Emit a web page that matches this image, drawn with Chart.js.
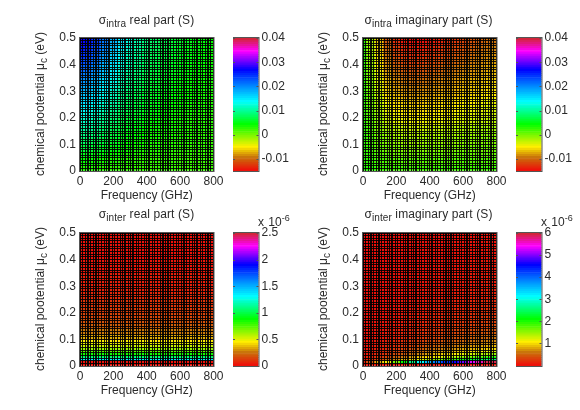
<!DOCTYPE html>
<html>
<head>
<meta charset="utf-8">
<script src="https://cdn.jsdelivr.net/npm/chart.js@4"></script>
<style>
    html, body { margin: 0; background: #fff; }
    #page { position: absolute; left: 0; top: 0; width: 580px; height: 410px; overflow: hidden; filter: blur(0.5px);
        font: 12px "Liberation Sans", Arial, sans-serif; color: #2b2b2b; }
    canvas { position: absolute; }
    .label { position: absolute; white-space: nowrap; }
    .label sub { font-size: 10px; line-height: 0; }
    .label sup { font-size: 9px; line-height: 0; }
    .title { transform: translate(-50%, -50%); letter-spacing: 0.1px; }
    .ylabel { transform: translate(-50%, -50%) rotate(-90deg); }
    .exp { word-spacing: 1px; }
</style>
</head>
<body>
<div id="page"></div>
<script>
// columns and row edges of the surfaces
const freqs = [0, 50, 100, 150, 200, 250, 300, 350, 400, 450, 500, 550, 600, 650, 700, 750, 800];
const muEdgesIntra = [0.5, 0.475, 0.45, 0.425, 0.4, 0.375, 0.35, 0.325, 0.3, 0.275, 0.25, 0.225, 0.2, 0.175, 0.15, 0.125, 0.1, 0.075, 0.05, 0.025, 0];
const muEdgesInter = [0.5, 0.45, 0.4, 0.35, 0.3, 0.275, 0.25, 0.225, 0.2, 0.18, 0.16, 0.14, 0.12, 0.1, 0.09, 0.08, 0.07, 0.06, 0.05, 0.04, 0.035, 0.03, 0.025, 0.02, 0.01, 0];

// tick labels
const freqTicks = [0, 200, 400, 600, 800];
const muTicks = [0, 0.1, 0.2, 0.3, 0.4, 0.5];
const barTicksIntra = [-10, 0, 10, 20, 30, 40];
const barLabelsIntra = ['-0.01', '0', '0.01', '0.02', '0.03', '0.04'];
const barTicksInterReal = [0, 0.5, 1, 1.5, 2, 2.5];
const barLabelsInterReal = ['0', '0.5', '1', '1.5', '2', '2.5'];
const barTicksInterImag = [1, 2, 3, 4, 5, 6];
const barLabelsInterImag = ['1', '2', '3', '4', '5', '6'];

// sigma intra, real part, mS, top row first
const intraReal = [
    [27.5, 26.5, 23.9, 20.7, 17.6, 14.8, 12.5, 10.7, 9.1, 8, 7.1, 6.3, 5.8, 5.3, 4.9, 4.6, 4.3],
    [26.2, 25.2, 22.8, 19.8, 16.8, 14.1, 11.9, 10.2, 8.8, 7.7, 6.8, 6.1, 5.6, 5.1, 4.7, 4.4, 4.2],
    [25, 24.1, 21.8, 18.9, 16, 13.5, 11.4, 9.8, 8.4, 7.4, 6.6, 5.9, 5.4, 5, 4.6, 4.3, 4],
    [23.7, 22.8, 20.7, 18, 15.2, 12.9, 10.9, 9.4, 8.1, 7.1, 6.3, 5.7, 5.2, 4.8, 4.5, 4.2, 3.9],
    [22.4, 21.6, 19.5, 17, 14.4, 12.2, 10.4, 8.9, 7.7, 6.8, 6.1, 5.5, 5, 4.6, 4.3, 4, 3.8],
    [21.1, 20.3, 18.4, 16, 13.7, 11.6, 9.8, 8.5, 7.3, 6.5, 5.8, 5.2, 4.8, 4.5, 4.2, 3.9, 3.7],
    [19.8, 19.1, 17.3, 15.1, 12.9, 10.9, 9.3, 8.1, 7, 6.2, 5.6, 5, 4.6, 4.3, 4, 3.8, 3.6],
    [18.5, 17.8, 16.2, 14.1, 12.1, 10.3, 8.8, 7.6, 6.6, 5.9, 5.3, 4.8, 4.4, 4.1, 3.9, 3.7, 3.5],
    [17.2, 16.6, 15.1, 13.2, 11.3, 9.6, 8.2, 7.2, 6.3, 5.6, 5, 4.6, 4.2, 4, 3.7, 3.5, 3.4],
    [15.9, 15.3, 14, 12.2, 10.5, 9, 7.7, 6.7, 5.9, 5.3, 4.8, 4.4, 4.1, 3.8, 3.6, 3.4, 3.2],
    [14.6, 14.1, 12.8, 11.3, 9.7, 8.3, 7.2, 6.3, 5.5, 5, 4.5, 4.1, 3.9, 3.6, 3.4, 3.3, 3.1],
    [13.3, 12.8, 11.7, 10.3, 8.9, 7.7, 6.6, 5.8, 5.2, 4.7, 4.3, 3.9, 3.7, 3.5, 3.3, 3.1, 3],
    [12, 11.6, 10.6, 9.4, 8.1, 7, 6.1, 5.4, 4.8, 4.4, 4, 3.7, 3.5, 3.3, 3.1, 3, 2.9],
    [10.7, 10.4, 9.5, 8.4, 7.3, 6.4, 5.6, 5, 4.4, 4, 3.7, 3.5, 3.3, 3.1, 3, 2.9, 2.8],
    [9.4, 9.1, 8.4, 7.4, 6.5, 5.7, 5, 4.5, 4.1, 3.7, 3.5, 3.3, 3.1, 3, 2.8, 2.7, 2.7],
    [8.1, 7.9, 7.2, 6.5, 5.7, 5.1, 4.5, 4.1, 3.7, 3.4, 3.2, 3, 2.9, 2.8, 2.7, 2.6, 2.5],
    [6.8, 6.6, 6.1, 5.5, 4.9, 4.4, 4, 3.6, 3.3, 3.1, 3, 2.8, 2.7, 2.6, 2.5, 2.5, 2.4],
    [5.5, 5.4, 5, 4.6, 4.1, 3.8, 3.4, 3.2, 3, 2.8, 2.7, 2.6, 2.5, 2.5, 2.4, 2.4, 2.3],
    [4.2, 4.1, 3.9, 3.6, 3.3, 3.1, 2.9, 2.7, 2.6, 2.5, 2.4, 2.4, 2.3, 2.3, 2.2, 2.2, 2.2],
    [3, 3, 2.9, 2.7, 2.6, 2.5, 2.4, 2.3, 2.3, 2.2, 2.2, 2.2, 2.1, 2.1, 2.1, 2.1, 2.1]
];

// sigma intra, imaginary part, mS, top row first
const intraImag = [
    [3, -1.8, -6.6, -10.8, -12.9, -14, -14.5, -14.5, -14.2, -13.7, -13.1, -12.4, -11.8, -11.1, -10.5, -9.9, -9.5],
    [3, -1.6, -6.2, -10.2, -12.2, -13.2, -13.7, -13.7, -13.4, -12.9, -12.3, -11.7, -11.1, -10.5, -9.9, -9.3, -9],
    [3, -1.3, -5.7, -9.6, -11.5, -12.5, -12.9, -12.9, -12.6, -12.2, -11.6, -11, -10.5, -9.9, -9.3, -8.7, -8.4],
    [3, -1.1, -5.3, -9, -10.7, -11.7, -12.1, -12.1, -11.8, -11.4, -10.9, -10.3, -9.8, -9.2, -8.7, -8.2, -7.9],
    [3, -0.8, -4.8, -8.4, -10, -10.9, -11.3, -11.3, -11, -10.7, -10.1, -9.6, -9.1, -8.6, -8.1, -7.6, -7.3],
    [3, -0.6, -4.3, -7.7, -9.3, -10.1, -10.5, -10.5, -10.3, -9.9, -9.4, -8.9, -8.5, -8, -7.5, -7, -6.8],
    [3, -0.4, -3.9, -7.1, -8.6, -9.4, -9.7, -9.7, -9.5, -9.1, -8.7, -8.2, -7.8, -7.3, -6.9, -6.5, -6.2],
    [3, -0.1, -3.4, -6.5, -7.9, -8.6, -8.9, -8.9, -8.7, -8.4, -8, -7.5, -7.1, -6.7, -6.3, -5.9, -5.7],
    [3, 0.1, -3, -5.9, -7.1, -7.8, -8.1, -8.1, -7.9, -7.6, -7.2, -6.9, -6.5, -6.1, -5.7, -5.3, -5.1],
    [3, 0.4, -2.5, -4.8, -5.9, -6.5, -6.8, -6.8, -6.6, -6.4, -6, -5.7, -5.3, -5, -4.6, -4.2, -4.1],
    [3, 0.6, -2.1, -4.2, -5.2, -5.8, -6, -6, -5.8, -5.6, -5.3, -5, -4.6, -4.3, -4, -3.7, -3.5],
    [3, 0.8, -1.6, -3.5, -4.5, -5, -5.2, -5.2, -5.1, -4.8, -4.6, -4.3, -4, -3.7, -3.4, -3.1, -3],
    [3, 1.1, -1.1, -2.9, -3.8, -4.2, -4.4, -4.4, -4.3, -4.1, -3.8, -3.6, -3.3, -3.1, -2.8, -2.6, -2.4],
    [3, 1.3, -0.7, -1.8, -2.5, -2.9, -3.1, -3.1, -3, -2.8, -2.6, -2.4, -2.1, -1.9, -1.7, -1.5, -1.4],
    [3, 1.6, -0.2, -1.2, -1.8, -2.2, -2.3, -2.3, -2.2, -2.1, -1.9, -1.7, -1.5, -1.3, -1.1, -0.9, -0.8],
    [3, 1.8, 0.2, -0.6, -1.1, -1.4, -1.5, -1.5, -1.4, -1.3, -1.1, -1, -0.8, -0.7, -0.5, -0.3, -0.3],
    [3, 2, 0.7, 0, -0.4, -0.6, -0.7, -0.7, -0.6, -0.5, -0.4, -0.3, -0.2, 0, 0.1, 0.2, 0.3],
    [3, 2.3, 1.1, 0.7, 0.3, 0.2, 0.1, 0.1, 0.1, 0.2, 0.3, 0.4, 0.5, 0.6, 0.7, 0.8, 0.8],
    [3, 2.5, 1.6, 1.3, 1.1, 0.9, 0.9, 0.9, 0.9, 1, 1, 1.1, 1.2, 1.2, 1.3, 1.4, 1.4],
    [3, 2.8, 2, 1.9, 1.8, 1.7, 1.7, 1.7, 1.7, 1.7, 1.8, 1.8, 1.8, 1.9, 1.9, 1.9, 2]
];

// sigma inter, real part, 1e-6 S, top row first
const interReal = [
    [0.02, 0.02, 0.02, 0.02, 0.02, 0.02, 0.02, 0.02, 0.02, 0.02, 0.02, 0.02, 0.02, 0.02, 0.02, 0.02, 0.02],
    [0.02, 0.02, 0.02, 0.02, 0.02, 0.02, 0.02, 0.02, 0.02, 0.02, 0.02, 0.02, 0.02, 0.02, 0.02, 0.02, 0.02],
    [0.03, 0.03, 0.03, 0.03, 0.03, 0.03, 0.03, 0.03, 0.03, 0.03, 0.03, 0.03, 0.03, 0.03, 0.03, 0.03, 0.03],
    [0.05, 0.05, 0.05, 0.05, 0.05, 0.05, 0.05, 0.05, 0.05, 0.05, 0.05, 0.05, 0.05, 0.05, 0.05, 0.05, 0.05],
    [0.06, 0.06, 0.06, 0.06, 0.06, 0.06, 0.06, 0.06, 0.06, 0.06, 0.06, 0.06, 0.06, 0.06, 0.06, 0.06, 0.06],
    [0.08, 0.08, 0.08, 0.08, 0.08, 0.08, 0.08, 0.08, 0.08, 0.08, 0.08, 0.08, 0.08, 0.08, 0.08, 0.08, 0.08],
    [0.1, 0.1, 0.1, 0.1, 0.1, 0.1, 0.1, 0.1, 0.1, 0.1, 0.1, 0.1, 0.1, 0.1, 0.1, 0.1, 0.1],
    [0.12, 0.12, 0.12, 0.12, 0.12, 0.12, 0.12, 0.12, 0.12, 0.12, 0.12, 0.12, 0.12, 0.12, 0.12, 0.12, 0.12],
    [0.14, 0.14, 0.14, 0.14, 0.14, 0.14, 0.14, 0.14, 0.14, 0.14, 0.14, 0.14, 0.14, 0.14, 0.14, 0.14, 0.14],
    [0.17, 0.17, 0.17, 0.17, 0.17, 0.17, 0.17, 0.17, 0.17, 0.17, 0.17, 0.17, 0.17, 0.17, 0.17, 0.17, 0.17],
    [0.2, 0.2, 0.2, 0.2, 0.2, 0.2, 0.2, 0.2, 0.2, 0.2, 0.2, 0.2, 0.2, 0.2, 0.2, 0.2, 0.2],
    [0.26, 0.26, 0.26, 0.26, 0.26, 0.26, 0.26, 0.26, 0.26, 0.26, 0.26, 0.26, 0.26, 0.26, 0.26, 0.26, 0.26],
    [0.34, 0.34, 0.34, 0.34, 0.34, 0.34, 0.34, 0.34, 0.34, 0.34, 0.34, 0.34, 0.34, 0.34, 0.34, 0.34, 0.34],
    [0.44, 0.44, 0.44, 0.44, 0.44, 0.44, 0.44, 0.44, 0.44, 0.44, 0.44, 0.44, 0.44, 0.44, 0.44, 0.44, 0.44],
    [0.48, 0.48, 0.48, 0.48, 0.48, 0.48, 0.48, 0.48, 0.48, 0.48, 0.48, 0.48, 0.48, 0.48, 0.48, 0.48, 0.48],
    [0.54, 0.54, 0.54, 0.54, 0.54, 0.54, 0.54, 0.54, 0.54, 0.54, 0.54, 0.54, 0.54, 0.54, 0.54, 0.54, 0.54],
    [0.62, 0.62, 0.62, 0.62, 0.62, 0.62, 0.62, 0.62, 0.62, 0.62, 0.62, 0.62, 0.62, 0.62, 0.62, 0.62, 0.62],
    [0.72, 0.72, 0.72, 0.72, 0.72, 0.72, 0.72, 0.72, 0.72, 0.72, 0.72, 0.72, 0.72, 0.72, 0.72, 0.72, 0.72],
    [0.85, 0.85, 0.85, 0.85, 0.85, 0.85, 0.85, 0.85, 0.85, 0.85, 0.85, 0.85, 0.85, 0.85, 0.85, 0.85, 0.85],
    [1, 1, 1, 1, 1, 1, 1, 1, 1, 1, 1, 1, 1, 1, 1, 1, 1],
    [1.1, 1.1, 1.1, 1.1, 1.1, 1.1, 1.1, 1.1, 1.1, 1.1, 1.1, 1.1, 1.1, 1.1, 1.1, 1.1, 1.1],
    [1.3, 1.3, 1.3, 1.3, 1.3, 1.3, 1.3, 1.3, 1.3, 1.3, 1.3, 1.3, 1.3, 1.3, 1.3, 1.3, 1.3],
    [1.5, 1.5, 1.5, 1.5, 1.5, 1.5, 1.5, 1.5, 1.5, 1.5, 1.5, 1.5, 1.5, 1.5, 1.5, 1.5, 1.5],
    [0.02, 0.02, 0.02, 0.02, 0.02, 0.02, 0.02, 0.02, 0.02, 0.02, 0.02, 0.02, 0.02, 0.02, 0.02, 0.02, 0.02],
    [0.02, 0.02, 0.02, 0.02, 0.02, 0.02, 0.02, 0.02, 0.02, 0.02, 0.02, 0.02, 0.02, 0.02, 0.02, 0.02, 0.02]
];

// sigma inter, imaginary part, 1e-6 S, top row first
const interImag = [
    [0, 0, 0.01, 0.01, 0.01, 0.01, 0.02, 0.02, 0.02, 0.02, 0.02, 0.03, 0.03, 0.03, 0.03, 0.04, 0.04],
    [0, 0, 0.01, 0.01, 0.01, 0.02, 0.02, 0.02, 0.03, 0.03, 0.03, 0.03, 0.04, 0.04, 0.04, 0.05, 0.05],
    [0, 0.01, 0.01, 0.01, 0.02, 0.02, 0.03, 0.03, 0.03, 0.04, 0.04, 0.05, 0.05, 0.06, 0.06, 0.06, 0.07],
    [0, 0.01, 0.01, 0.02, 0.02, 0.03, 0.03, 0.04, 0.05, 0.05, 0.06, 0.06, 0.07, 0.08, 0.08, 0.09, 0.09],
    [0, 0.01, 0.02, 0.02, 0.03, 0.04, 0.04, 0.05, 0.06, 0.07, 0.07, 0.08, 0.09, 0.1, 0.1, 0.11, 0.12],
    [0.01, 0.01, 0.02, 0.03, 0.04, 0.04, 0.05, 0.06, 0.07, 0.08, 0.09, 0.1, 0.11, 0.12, 0.12, 0.13, 0.14],
    [0.01, 0.01, 0.02, 0.03, 0.04, 0.05, 0.06, 0.07, 0.08, 0.1, 0.11, 0.12, 0.13, 0.14, 0.15, 0.16, 0.17],
    [0.01, 0.01, 0.03, 0.04, 0.05, 0.06, 0.08, 0.09, 0.1, 0.12, 0.13, 0.14, 0.16, 0.17, 0.18, 0.19, 0.2],
    [0.01, 0.02, 0.03, 0.04, 0.06, 0.08, 0.09, 0.11, 0.12, 0.14, 0.16, 0.17, 0.19, 0.2, 0.22, 0.23, 0.24],
    [0.01, 0.02, 0.04, 0.05, 0.07, 0.09, 0.11, 0.13, 0.15, 0.17, 0.19, 0.2, 0.22, 0.24, 0.26, 0.27, 0.29],
    [0.01, 0.02, 0.04, 0.06, 0.08, 0.11, 0.13, 0.15, 0.18, 0.2, 0.22, 0.25, 0.27, 0.29, 0.31, 0.33, 0.35],
    [0.01, 0.03, 0.05, 0.08, 0.1, 0.13, 0.16, 0.19, 0.22, 0.25, 0.28, 0.31, 0.34, 0.36, 0.39, 0.41, 0.44],
    [0.02, 0.03, 0.07, 0.1, 0.13, 0.16, 0.2, 0.24, 0.28, 0.32, 0.35, 0.39, 0.43, 0.46, 0.5, 0.53, 0.56],
    [0.02, 0.04, 0.08, 0.11, 0.15, 0.19, 0.24, 0.28, 0.33, 0.37, 0.41, 0.46, 0.5, 0.54, 0.58, 0.62, 0.66],
    [0.02, 0.04, 0.09, 0.13, 0.17, 0.22, 0.27, 0.32, 0.37, 0.42, 0.47, 0.52, 0.57, 0.62, 0.66, 0.7, 0.75],
    [0.02, 0.05, 0.1, 0.15, 0.2, 0.25, 0.31, 0.37, 0.43, 0.49, 0.54, 0.6, 0.66, 0.71, 0.76, 0.81, 0.86],
    [0.02, 0.06, 0.11, 0.17, 0.23, 0.3, 0.37, 0.44, 0.5, 0.57, 0.63, 0.7, 0.77, 0.83, 0.89, 0.95, 1],
    [0.03, 0.07, 0.14, 0.2, 0.28, 0.36, 0.44, 0.52, 0.6, 0.68, 0.76, 0.84, 0.92, 1, 1.07, 1.13, 1.2],
    [0.03, 0.08, 0.17, 0.25, 0.35, 0.45, 0.55, 0.65, 0.75, 0.85, 0.95, 1.05, 1.15, 1.25, 1.35, 1.4, 1.5],
    [0.04, 0.1, 0.2, 0.3, 0.45, 0.55, 0.7, 0.8, 0.9, 1, 1.15, 1.25, 1.4, 1.5, 1.6, 1.7, 1.8],
    [0.05, 0.12, 0.25, 0.35, 0.5, 0.65, 0.8, 0.95, 1.05, 1.2, 1.35, 1.5, 1.65, 1.75, 1.9, 2, 2.1],
    [0.05, 0.15, 0.3, 0.45, 0.6, 0.8, 0.95, 1.1, 1.3, 1.45, 1.65, 1.8, 2, 2.15, 2.3, 2.4, 2.5],
    [0.05, 0.2, 0.4, 0.6, 0.8, 1, 1.2, 1.5, 1.7, 1.9, 2.2, 2.4, 2.6, 2.8, 3, 3.2, 3.3],
    [0.1, 0.4, 0.8, 1.1, 1.6, 2.1, 2.6, 3.1, 3.5, 3.9, 4.3, 4.6, 4.9, 5.3, 5.6, 5.9, 5.9],
    [0.05, 0.05, 0.05, 0.05, 0.05, 0.05, 0.05, 0.05, 0.05, 0.05, 0.05, 0.05, 0.05, 0.05, 0.05, 0.05, 0.05]
];

// colormap, bottom to top
const colorStops = [
    [0, 240, 10, 10], [0.1, 200, 115, 10], [0.18, 255, 240, 0], [0.35, 0, 255, 0], [0.52, 0, 255, 255],
    [0.68, 0, 90, 255], [0.76, 0, 0, 255], [0.9, 255, 0, 255], [1, 205, 40, 40]
];

// mesh lines that came out heavier in the export, counted from 0 GHz
const heavyFreqLines = [3, 6, 11, 17, 20, 26, 31, 33, 39, 44, 48];

function colorAt(t) {
    t = Math.max(0, Math.min(1, t));
    let i = 0;
    while (i < colorStops.length - 2 && t > colorStops[i + 1][0]) i++;
    const a = colorStops[i], b = colorStops[i + 1];
    const k = (t - a[0]) / (b[0] - a[0]);
    return `rgb(${[1, 2, 3].map(c => Math.round(a[c] + (b[c] - a[c]) * k)).join(',')})`;
}

const inkColor = '#2b2b2b';
const meshColor = 'rgba(0,0,0,0.9)';
const tickFont = { family: '"Liberation Sans", Arial, sans-serif', size: 12 };
const page = document.getElementById('page');

// mesh lines of the surface plot; 200 and 600 are off the mesh and only carry a label
const meshFreq = [...new Set([...Array.from({ length: 51 }, (_, i) => i * 16), ...freqTicks])].sort((a, b) => a - b);
const meshMu = Array.from({ length: 51 }, (_, i) => i * 0.01);

// the scales must not shift the plot for half a label
function noScalePadding(s) {
    s.paddingTop = 0;
    s.paddingBottom = 0;
    s.paddingLeft = 0;
    s.paddingRight = 0;
}

// frame and inward ticks, matlab style
const framePlugin = {
    id: 'frame',
    afterDraw(chart, args, opts) {
        const { ctx, chartArea: a } = chart;
        ctx.save();
        ctx.strokeStyle = '#555';
        ctx.strokeRect(a.left - 0.5, a.top - 0.5, a.right - a.left + 1, a.bottom - a.top + 1);
        if (opts.ticks) {
            opts.ticks.forEach(v => {
                const y = Math.round(chart.scales.y.getPixelForValue(v)) + 0.5;
                ctx.beginPath();
                ctx.moveTo(a.left, y); ctx.lineTo(a.left + 2, y);
                ctx.moveTo(a.right - 2, y); ctx.lineTo(a.right, y);
                ctx.stroke();
            });
        }
        ctx.restore();
    }
};

function addCanvas(left, top, width, height) {
    const c = document.createElement('canvas');
    c.style.left = left + 'px';
    c.style.top = top + 'px';
    c.style.width = width + 'px';
    c.style.height = height + 'px';
    c.width = width;
    c.height = height;
    page.appendChild(c);
    return c;
}

function addLabel(cls, html, x, y) {
    const d = document.createElement('div');
    d.className = 'label ' + cls;
    d.innerHTML = html;
    d.style.left = x + 'px';
    d.style.top = y + 'px';
    page.appendChild(d);
}

function drawSurface(left, top, table, muEdges, min, max) {
    const datasets = table.map((row, r) => ({
        data: row.map((v, c) => ({ x: freqs[c], y: [muEdges[r + 1], muEdges[r]] })),
        backgroundColor: row.map(v => colorAt((v - min) / (max - min))),
        barThickness: 9,
        borderWidth: 0,
        grouped: false
    }));
    new Chart(addCanvas(left - 80, top - 9, 225, 175), {
        type: 'bar',
        data: { datasets },
        plugins: [framePlugin],
        options: {
            responsive: false,
            animation: false,
            layout: { padding: { top: 9, right: 11.5 } },
            plugins: { legend: { display: false }, tooltip: { enabled: false }, frame: {} },
            scales: {
                x: {
                    type: 'linear', min: 0, max: 800, offset: false,
                    afterBuildTicks: s => { s.ticks = meshFreq.map(value => ({ value })); },
                    afterFit: s => { s.height = 33; noScalePadding(s); },
                    grid: {
                        offset: false, z: 1, drawTicks: false,
                        color: c => c.tick.value % 16 ? 'transparent' : meshColor,
                        lineWidth: c => heavyFreqLines.includes(c.tick.value / 16) ? 2 : 1
                    },
                    border: { display: false },
                    ticks: {
                        autoSkip: false, maxRotation: 0, color: inkColor, font: tickFont, padding: 3,
                        callback: v => freqTicks.includes(v) ? String(v) : ''
                    },
                    title: { display: true, text: 'Frequency (GHz)', color: inkColor, font: tickFont, padding: 1 }
                },
                y: {
                    type: 'linear', min: 0, max: 0.5,
                    afterBuildTicks: s => { s.ticks = meshMu.map(value => ({ value })); },
                    afterFit: s => { s.width = 80; noScalePadding(s); },
                    grid: { z: 1, drawTicks: false, color: meshColor, lineWidth: 1 },
                    border: { display: false },
                    ticks: {
                        autoSkip: false, color: inkColor, font: tickFont, padding: 4,
                        callback: v => {
                            const t = muTicks.find(m => Math.abs(m - v) < 1e-6);
                            return t === undefined ? '' : String(t);
                        }
                    }
                }
            }
        }
    });
}

function drawColorbar(left, top, min, max, ticks, labels) {
    // 64 levels like the matlab colormap
    const datasets = Array.from({ length: 64 }, (_, i) => ({
        data: [{ x: 0, y: [min + (max - min) * i / 64, min + (max - min) * (i + 1) / 64] }],
        backgroundColor: colorAt((i + 0.5) / 64),
        barThickness: 30,
        borderWidth: 0,
        grouped: false
    }));
    new Chart(addCanvas(left, top - 9, 60, 151), {
        type: 'bar',
        data: { datasets },
        plugins: [framePlugin],
        options: {
            responsive: false,
            animation: false,
            layout: { padding: { top: 9, bottom: 9 } },
            plugins: { legend: { display: false }, tooltip: { enabled: false }, frame: { ticks } },
            scales: {
                x: { type: 'linear', min: -1, max: 1, offset: false, display: false, grid: { offset: false } },
                y: {
                    type: 'linear', position: 'right', min, max,
                    afterBuildTicks: s => { s.ticks = ticks.map(value => ({ value })); },
                    afterFit: s => { s.width = 34.5; noScalePadding(s); },
                    grid: { display: false, drawTicks: false },
                    border: { display: false },
                    ticks: {
                        autoSkip: false, color: inkColor, font: tickFont, padding: 3,
                        callback: v => labels[ticks.indexOf(v)]
                    }
                }
            }
        }
    });
}

const ylabelText = 'chemical pootential &mu;<sub>c</sub> (eV)';

// top row
drawSurface(80, 38, intraReal, muEdgesIntra, -14.9, 40);
drawColorbar(233, 38, -14.9, 40, barTicksIntra, barLabelsIntra);
addLabel('title', '&sigma;<sub>intra</sub> real part (S)', 146.5, 20);
addLabel('ylabel', ylabelText, 40, 104);

drawSurface(363, 38, intraImag, muEdgesIntra, -14.9, 40);
drawColorbar(516, 38, -14.9, 40, barTicksIntra, barLabelsIntra);
addLabel('title', '&sigma;<sub>intra</sub> imaginary part (S)', 428.5, 20);
addLabel('ylabel', ylabelText, 323, 104);

// bottom row
drawSurface(80, 233, interReal, muEdgesInter, 0, 2.5);
drawColorbar(233, 233, 0, 2.5, barTicksInterReal, barLabelsInterReal);
addLabel('title', '&sigma;<sub>inter</sub> real part (S)', 146.5, 214);
addLabel('ylabel', ylabelText, 40, 299);
addLabel('exp', 'x 10<sup>-6</sup>', 258, 215);

drawSurface(363, 233, interImag, muEdgesInter, -0.02, 6);
drawColorbar(516, 233, -0.02, 6, barTicksInterImag, barLabelsInterImag);
addLabel('title', '&sigma;<sub>inter</sub> imaginary part (S)', 428.5, 214);
addLabel('ylabel', ylabelText, 323, 299);
addLabel('exp', 'x 10<sup>-6</sup>', 541, 215);
</script>
</body>
</html>
